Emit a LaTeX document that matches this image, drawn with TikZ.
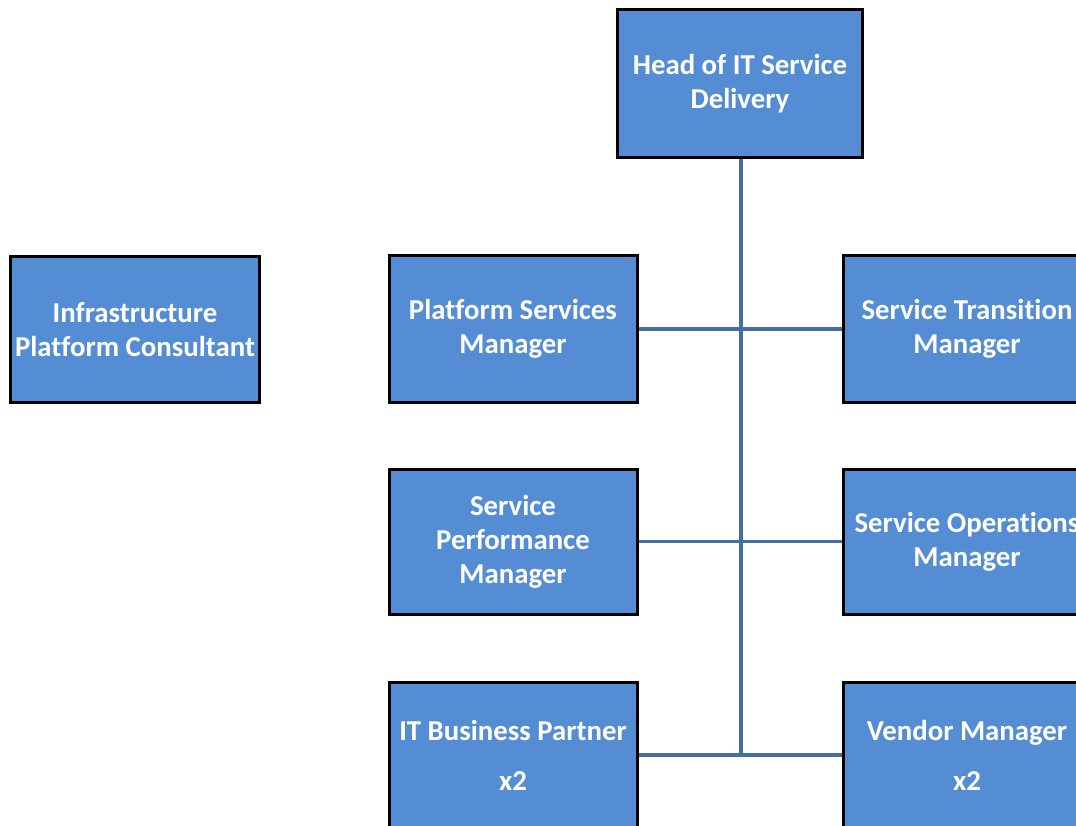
\documentclass[tikz,border=0pt]{standalone}
\usepackage{fontspec}
\setmainfont{Carlito}[Ligatures=NoCommon]
\definecolor{boxfill}{RGB}{84,141,212}
\definecolor{linkcol}{RGB}{68,110,160}
\tikzset{
  role/.style={draw=black, line width=3pt, fill=boxfill, text=white,
    font=\fontsize{28.8}{34}\selectfont\bfseries, align=center,
    minimum width=248pt, minimum height=146pt, inner sep=0pt},
  conn/.style={draw=linkcol, line width=3.5pt}
}
\begin{document}
\begin{tikzpicture}[x=1pt, y=-1pt]
  \useasboundingbox (0,0) rectangle (1076,826);
  \clip (0,0) rectangle (1076,826);
  % role boxes
  \node[role, minimum width=245pt, minimum height=148pt] (head) at (740,84) {Head of IT Service\\Delivery};
  \node[role, minimum width=249pt] (infra) at (135,329.5) {Infrastructure\\Platform Consultant};
  \node[role] (plat) at (513,329) {Platform Services\\Manager};
  \node[role] (trans) at (967,329) {Service Transition\\Manager};
  \node[role, minimum height=145pt] (perf) at (513,541.5) {Service\\Performance\\Manager};
  \node[role, minimum height=145pt] (ops) at (967,541.5) {Service Operations\\Manager};
  \node[role] (itbp) at (513,755) {IT Business Partner\\[16pt]x2};
  \node[role] (vend) at (967,755) {Vendor Manager\\[16pt]x2};
  % reporting lines
  \coordinate (spineTop) at ([xshift=1pt]head.south);
  \coordinate (spineEnd) at (spineTop |- itbp.east);
  \draw[conn] (plat.east) -- (trans.west);
  \draw[conn] (perf.east) -- (ops.west);
  \draw[conn] (itbp.east) -- (vend.west);
  \draw[conn] (spineTop) -- (spineEnd);
\end{tikzpicture}
\end{document}
